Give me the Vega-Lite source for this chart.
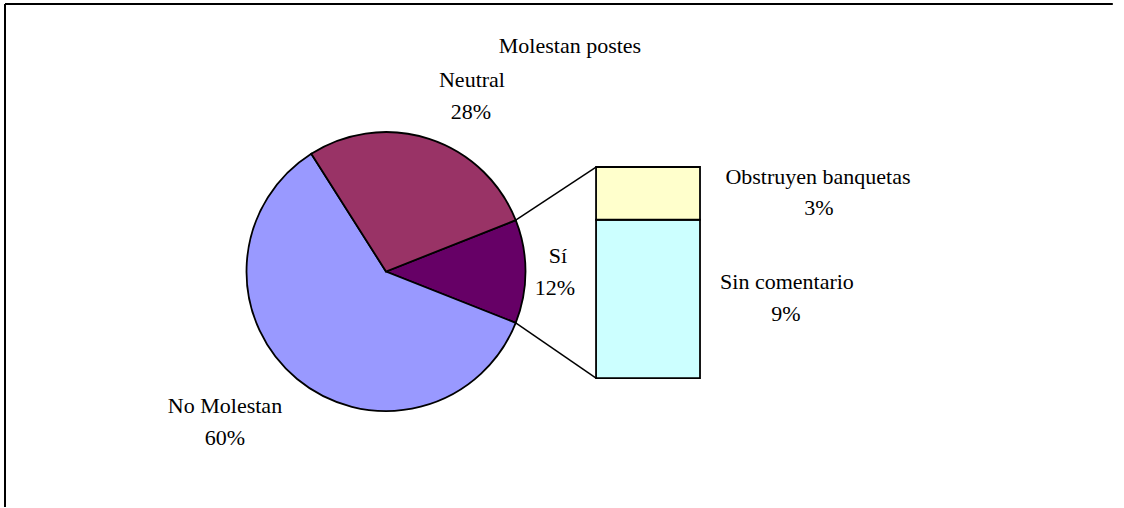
{
  "$schema": "https://vega.github.io/schema/vega-lite/v6.json",
  "width": 1119,
  "height": 504,
  "autosize": {"type": "none"},
  "padding": {"left": 5, "top": 4, "right": 0, "bottom": 0},
  "background": "white",
  "config": {
    "view": {"stroke": null},
    "axis": {"disable": true},
    "legend": {"disable": true},
    "text": {"font": "Liberation Serif", "fontSize": 22, "color": "black", "align": "center", "baseline": "alphabetic"}
  },
  "datasets": {
    "pie": [
      {"respuesta": "Sí", "pct": 0.12, "orden": 1},
      {"respuesta": "No Molestan", "pct": 0.60, "orden": 2},
      {"respuesta": "Neutral", "pct": 0.28, "orden": 3}
    ],
    "barra": [
      {"detalle": "Sin comentario", "pct": 0.09, "orden": 1},
      {"detalle": "Obstruyen banquetas", "pct": 0.03, "orden": 2}
    ],
    "uno": [{"titulo": "Molestan postes"}]
  },
  "resolve": {"scale": {"color": "independent"}},
  "layer": [
    {
      "data": {"name": "uno"},
      "mark": {"type": "rule", "color": "black", "strokeWidth": 2},
      "encoding": {
        "x": {"datum": 0, "type": "quantitative", "scale": {"domain": [0, 100], "nice": false, "zero": false}},
        "x2": {"datum": 99.0},
        "y": {"datum": 0.2127, "type": "quantitative", "scale": {"domain": [-0.0739, 0.2127], "nice": false, "zero": false}}
      }
    },
    {
      "data": {"name": "uno"},
      "mark": {"type": "rule", "color": "black", "strokeWidth": 2},
      "encoding": {
        "x": {"datum": 0, "type": "quantitative"},
        "y": {"datum": -0.0734, "type": "quantitative"},
        "y2": {"datum": 0.2127}
      }
    },
    {
      "data": {"name": "pie"},
      "mark": {"type": "arc", "radius": 139.5, "stroke": "black", "strokeWidth": 1.8},
      "encoding": {
        "theta": {"field": "pct", "type": "quantitative", "stack": true, "scale": {"range": [1.19381, 7.47699]}},
        "order": {"field": "orden", "type": "quantitative"},
        "color": {"field": "respuesta", "type": "nominal", "scale": {"domain": ["Sí", "No Molestan", "Neutral"], "range": ["#660066", "#9999FF", "#993366"]}},
        "x": {"datum": 34.05, "type": "quantitative"},
        "y": {"datum": 0.06057, "type": "quantitative"}
      }
    },
    {
      "data": {"name": "barra"},
      "transform": [{"stack": "pct", "groupby": [], "sort": [{"field": "orden", "order": "ascending"}], "as": ["base", "tope"]}],
      "mark": {"type": "rect", "stroke": "black", "strokeWidth": 1.8},
      "encoding": {
        "x": {"datum": 52.82, "type": "quantitative"},
        "x2": {"datum": 62.11},
        "y": {"field": "base", "type": "quantitative"},
        "y2": {"field": "tope"},
        "color": {"field": "detalle", "type": "nominal", "scale": {"domain": ["Sin comentario", "Obstruyen banquetas"], "range": ["#CCFFFF", "#FFFFCC"]}}
      }
    },
    {
      "data": {"name": "uno"},
      "mark": {"type": "rule", "color": "black", "strokeWidth": 1.5},
      "encoding": {
        "x": {"datum": 45.64, "type": "quantitative"},
        "y": {"datum": 0.0898, "type": "quantitative"},
        "x2": {"datum": 52.82},
        "y2": {"datum": 0.12}
      }
    },
    {
      "data": {"name": "uno"},
      "mark": {"type": "rule", "color": "black", "strokeWidth": 1.5},
      "encoding": {
        "x": {"datum": 45.64, "type": "quantitative"},
        "y": {"datum": 0.03134, "type": "quantitative"},
        "x2": {"datum": 52.82},
        "y2": {"datum": 0}
      }
    },
    {
      "data": {"name": "uno"},
      "mark": {"type": "text"},
      "encoding": {
        "text": {"field": "titulo"},
        "x": {"datum": 50.49, "type": "quantitative"},
        "y": {"datum": 0.18483, "type": "quantitative"}
      }
    },
    {
      "data": {"name": "pie"},
      "transform": [{"filter": "datum.respuesta == 'Neutral'"}],
      "mark": {"type": "text"},
      "encoding": {"text": {"field": "respuesta"}, "x": {"datum": 41.73, "type": "quantitative"}, "y": {"datum": 0.1655, "type": "quantitative"}}
    },
    {
      "data": {"name": "pie"},
      "transform": [{"filter": "datum.respuesta == 'Neutral'"}],
      "mark": {"type": "text"},
      "encoding": {"text": {"field": "pct", "type": "quantitative", "format": ".0%"}, "x": {"datum": 41.64, "type": "quantitative"}, "y": {"datum": 0.1473, "type": "quantitative"}}
    },
    {
      "data": {"name": "pie"},
      "transform": [{"filter": "datum.respuesta == 'Sí'"}],
      "mark": {"type": "text"},
      "encoding": {"text": {"field": "respuesta"}, "x": {"datum": 49.42, "type": "quantitative"}, "y": {"datum": 0.0654, "type": "quantitative"}}
    },
    {
      "data": {"name": "pie"},
      "transform": [{"filter": "datum.respuesta == 'Sí'"}],
      "mark": {"type": "text"},
      "encoding": {"text": {"field": "pct", "type": "quantitative", "format": ".0%"}, "x": {"datum": 49.15, "type": "quantitative"}, "y": {"datum": 0.0472, "type": "quantitative"}}
    },
    {
      "data": {"name": "pie"},
      "transform": [{"filter": "datum.respuesta == 'No Molestan'"}],
      "mark": {"type": "text"},
      "encoding": {"text": {"field": "respuesta"}, "x": {"datum": 19.66, "type": "quantitative"}, "y": {"datum": -0.01991, "type": "quantitative"}}
    },
    {
      "data": {"name": "pie"},
      "transform": [{"filter": "datum.respuesta == 'No Molestan'"}],
      "mark": {"type": "text"},
      "encoding": {"text": {"field": "pct", "type": "quantitative", "format": ".0%"}, "x": {"datum": 19.66, "type": "quantitative"}, "y": {"datum": -0.0381, "type": "quantitative"}}
    },
    {
      "data": {"name": "barra"},
      "transform": [{"filter": "datum.detalle == 'Obstruyen banquetas'"}],
      "mark": {"type": "text"},
      "encoding": {"text": {"field": "detalle"}, "x": {"datum": 72.65, "type": "quantitative"}, "y": {"datum": 0.11033, "type": "quantitative"}}
    },
    {
      "data": {"name": "barra"},
      "transform": [{"filter": "datum.detalle == 'Obstruyen banquetas'"}],
      "mark": {"type": "text"},
      "encoding": {"text": {"field": "pct", "type": "quantitative", "format": ".0%"}, "x": {"datum": 72.74, "type": "quantitative"}, "y": {"datum": 0.0927, "type": "quantitative"}}
    },
    {
      "data": {"name": "barra"},
      "transform": [{"filter": "datum.detalle == 'Sin comentario'"}],
      "mark": {"type": "text"},
      "encoding": {"text": {"field": "detalle"}, "x": {"datum": 69.88, "type": "quantitative"}, "y": {"datum": 0.05062, "type": "quantitative"}}
    },
    {
      "data": {"name": "barra"},
      "transform": [{"filter": "datum.detalle == 'Sin comentario'"}],
      "mark": {"type": "text"},
      "encoding": {"text": {"field": "pct", "type": "quantitative", "format": ".0%"}, "x": {"datum": 69.79, "type": "quantitative"}, "y": {"datum": 0.03242, "type": "quantitative"}}
    }
  ]
}
